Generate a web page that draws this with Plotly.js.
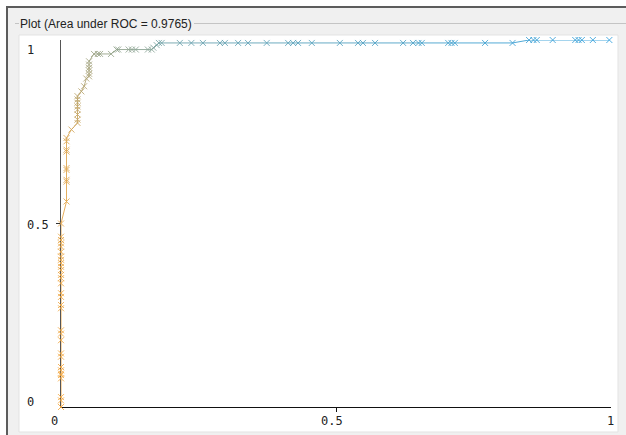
<!DOCTYPE html>
<html><head><meta charset="utf-8">
<script src="https://cdn.plot.ly/plotly-3.0.1.min.js"></script>
<style>html,body{margin:0;padding:0;background:#fff;}#chart{width:626px;height:435px;}</style>
</head><body><div id="chart"></div>
<script>
// ROC points (False Positive Rate, True Positive Rate) and threshold (drives colour)
const fpr = [
  0,0,0,0,0,0,0,0,0,0,0,0,0,0,0,0,0,0,0,0,0,0,0,0,0,0,0,0,0,0,0,
  0.010,0.010,0.010,0.010,0.010,0.010,0.010,0.010,0.010,
  0.019,0.030,0.030,0.030,0.030,0.030,0.030,0.030,0.030,
  0.037,0.042,0.046,
  0.051,0.051,0.051,0.051,0.051,0.051,
  0.060,0.067,0.071,0.091,
  0.101,0.104,0.123,0.129,0.136,0.158,0.165,
  0.168,0.174,0.178,0.183,
  0.216,0.237,0.258,0.289,0.298,0.322,0.340,0.374,0.413,0.422,0.431,0.456,0.507,0.540,0.549,0.571,0.622,0.640,0.650,0.656,0.704,0.710,0.716,0.771,0.821,
  0.851,0.859,0.865,0.894,0.935,0.941,0.947,0.967,0.997
];
const tpr = [
  0,0.018,0.027,0.078,0.087,0.091,0.100,0.109,0.137,0.146,0.182,0.200,0.209,0.269,0.278,0.300,0.310,0.337,0.351,0.360,0.373,0.382,0.392,0.401,0.410,0.423,0.437,0.446,0.455,0.464,0.500,
  0.560,0.614,0.619,0.646,0.651,0.696,0.701,0.724,0.733,
  0.756,0.774,0.783,0.797,0.810,0.819,0.829,0.838,0.847,
  0.860,0.874,0.895,
  0.901,0.908,0.917,0.924,0.933,0.942,
  0.962,0.962,0.962,0.962,
  0.974,0.974,0.974,0.974,0.974,0.974,0.974,
  0.979,0.986,0.992,0.992,
  0.992,0.992,0.992,0.992,0.992,0.992,0.992,0.992,0.992,0.992,0.992,0.992,0.992,0.992,0.992,0.992,0.992,0.992,0.992,0.992,0.992,0.992,0.992,0.992,0.992,
  1,1,1,1,1,1,1,1,1
];
const threshold = [
  1.00,1.00,1.00,0.99,0.99,0.99,0.99,0.99,0.98,0.98,0.98,0.98,0.98,0.97,0.97,0.97,0.97,0.97,0.96,0.96,0.96,0.96,0.96,0.95,0.95,0.95,0.95,0.94,0.94,0.94,0.93,
  0.91,0.90,0.90,0.89,0.89,0.88,0.88,0.87,0.86,
  0.83,0.78,0.77,0.76,0.75,0.74,0.73,0.72,0.71,
  0.69,0.67,0.65,
  0.63,0.62,0.61,0.60,0.59,0.58,
  0.55,0.54,0.53,0.52,
  0.50,0.49,0.48,0.47,0.46,0.45,0.44,
  0.41,0.38,0.35,0.33,
  0.30,0.29,0.28,0.27,0.26,0.25,0.24,0.23,0.22,0.21,0.20,0.19,0.18,0.17,0.16,0.15,0.14,0.13,0.12,0.11,0.10,0.09,0.08,0.07,0.06,
  0.05,0.045,0.04,0.035,0.03,0.025,0.02,0.01,0.0
];
const tickVals = [0, 0.5, 1];
const xTickLabels = ['0', '0.5', '1'];
const yTickLabels = ['0', '0.5', '1'];
const titleText = 'Plot (Area under ROC = 0.9765)';

// ---- styling ----
const W = 626, H = 435, ML = 61, MR = 15, MT = 40, MB = 28;
const PW = W - ML - MR, PH = H - MT - MB;
const px = x => (x - ML) / PW;          // pixel -> paper x
const py = y => (H - MB - y) / PH;      // pixel -> paper y
const lowC = [50, 160, 220], highC = [245, 168, 64];
function colorAt(t, a) {
  const c = lowC.map((v, i) => Math.round(v + (highC[i] - v) * t));
  return 'rgba(' + c.join(',') + ',' + (a === undefined ? 1 : a) + ')';
}

const traces = [];
for (let i = 0; i < fpr.length - 1; i++) {
  traces.push({
    x: [fpr[i], fpr[i + 1]], y: [tpr[i], tpr[i + 1]],
    mode: 'lines', type: 'scatter', hoverinfo: 'skip', showlegend: false, cliponaxis: false,
    line: { color: colorAt((threshold[i] + threshold[i + 1]) / 2, 0.9), width: 1 }
  });
}
traces.push({
  x: fpr, y: tpr, mode: 'markers', type: 'scatter', showlegend: false, cliponaxis: false,
  marker: { symbol: 'x-thin-open', size: 6, color: threshold.map(t => colorAt(t, 0.85)), line: { width: 1 } }
});

const tickFont = { family: 'DejaVu Sans Mono, monospace', size: 12, color: '#222' };
const annotations = [];
const xShift = [-7, -4, -1];
tickVals.forEach((v, i) => annotations.push({
  xref: 'x', yref: 'paper', x: v, y: py(421), xshift: xShift[i], text: xTickLabels[i],
  showarrow: false, xanchor: 'center', yanchor: 'middle', font: tickFont
}));
const yShift = [5.5, -1.5, -10];
tickVals.forEach((v, i) => annotations.push({
  xref: 'paper', yref: 'y', x: px(25), y: v, yshift: yShift[i], text: yTickLabels[i],
  showarrow: false, xanchor: 'left', yanchor: 'middle', font: tickFont
}));

const shapes = [
  { type: 'rect', xref: 'paper', yref: 'paper', x0: px(7), x1: px(632), y0: py(7), y1: py(440),
    fillcolor: '#f0f0f0', line: { width: 0 }, layer: 'below' },
  { type: 'rect', xref: 'paper', yref: 'paper', x0: px(19), x1: px(618), y0: py(35), y1: py(432),
    fillcolor: '#ffffff', line: { width: 1, color: '#e3e3e3' }, layer: 'below' },
  { type: 'line', xref: 'paper', yref: 'paper', x0: px(7), x1: px(7), y0: py(6), y1: py(436),
    line: { width: 2, color: '#5c5c5c' }, layer: 'below' },
  { type: 'line', xref: 'paper', yref: 'paper', x0: px(6), x1: px(627), y0: py(7), y1: py(7),
    line: { width: 2, color: '#5c5c5c' }, layer: 'below' },
  { type: 'line', xref: 'paper', yref: 'paper', x0: px(194), x1: px(627), y0: py(23.5), y1: py(23.5),
    line: { width: 1, color: '#c4c4c4' }, layer: 'below' },
  { type: 'line', xref: 'paper', yref: 'paper', x0: px(15), x1: px(19), y0: py(23.5), y1: py(23.5),
    line: { width: 1, color: '#c4c4c4' }, layer: 'below' }
];

const layout = {
  width: W, height: H, autosize: false,
  margin: { l: ML, r: MR, t: MT, b: MB, pad: 0 },
  paper_bgcolor: '#ffffff', plot_bgcolor: 'rgba(0,0,0,0)',
  showlegend: false,
  title: { text: titleText, xref: 'container', yref: 'container', x: 20 / W, y: 1 - 24 / H,
    xanchor: 'left', yanchor: 'middle', font: { family: 'Liberation Sans, Arial, sans-serif', size: 12, color: '#222' } },
  xaxis: { range: [0, 1], showgrid: false, zeroline: false, showline: true, linecolor: '#111', linewidth: 1,
    ticks: 'outside', tickvals: [0.5], ticklen: 4, tickcolor: '#111', showticklabels: false,
    fixedrange: true, layer: 'below traces' },
  yaxis: { range: [0, 1], showgrid: false, zeroline: false, showline: true, linecolor: '#555', linewidth: 1,
    ticks: 'outside', tickvals: [0.5], ticklen: 4, tickcolor: '#333', showticklabels: false,
    fixedrange: true, layer: 'below traces' },
  annotations: annotations,
  shapes: shapes
};

Plotly.newPlot('chart', traces, layout, { displayModeBar: false, staticPlot: true });
</script>
</body></html>
